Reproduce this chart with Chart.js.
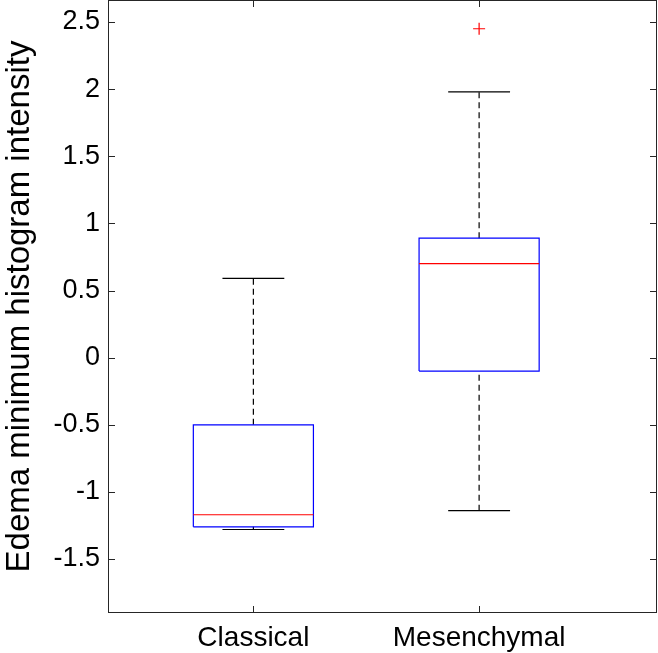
<!DOCTYPE html>
<html>
<head>
<meta charset="utf-8">
<script src="https://cdn.jsdelivr.net/npm/chart.js@4.4.0/dist/chart.umd.min.js"></script>
<style>
  html, body { margin: 0; padding: 0; background: #fff; }
  #wrap { width: 658px; height: 653px; }
</style>
</head>
<body>
<div id="wrap"><canvas id="boxChart" width="658" height="653"></canvas></div>
<script>
// --- Data ---
const categories = ['Classical', 'Mesenchymal'];
const lowerWhisker = [-1.28, -1.14];
const q1 = [-1.26, -0.10];
const median = [-1.17, 0.70];
const q3 = [-0.50, 0.89];
const upperWhisker = [0.59, 1.98];
const outliers = [[], [2.45]];
const yTicks = [-1.5, -1, -0.5, 0, 0.5, 1, 1.5, 2, 2.5];

// --- Style ---
const FONT = '"Liberation Sans", Arial, Helvetica, sans-serif';
const AXIS_COLOR = '#262626';
const BOX_COLOR = '#0000ff';
const MEDIAN_COLOR = '#ff0000';
const BOX_HALF = 0.266;
const CAP_HALF = 0.137;

const lineSet = (points, color, extra = {}) => Object.assign({
    type: 'scatter',
    data: points,
    showLine: true,
    borderColor: color,
    borderWidth: 1.2,
    pointRadius: 0,
    pointHoverRadius: 0,
    fill: false,
    tension: 0
}, extra);

const datasets = [];
categories.forEach((name, i) => {
    const c = i + 1;
    // median
    datasets.push(lineSet([{ x: c - BOX_HALF, y: median[i] }, { x: c + BOX_HALF, y: median[i] }], MEDIAN_COLOR, { order: 0 }));
    // box
    datasets.push(lineSet([
        { x: c - BOX_HALF, y: q1[i] }, { x: c + BOX_HALF, y: q1[i] },
        { x: c + BOX_HALF, y: q3[i] }, { x: c - BOX_HALF, y: q3[i] },
        { x: c - BOX_HALF, y: q1[i] }
    ], BOX_COLOR, { order: 1 }));
    // whiskers (dashed)
    datasets.push(lineSet([{ x: c, y: q3[i] }, { x: c, y: upperWhisker[i] }], '#000', { borderDash: [6, 4], order: 2 }));
    datasets.push(lineSet([{ x: c, y: lowerWhisker[i] }, { x: c, y: q1[i] }], '#000', { borderDash: [6, 4], order: 2 }));
    // caps
    datasets.push(lineSet([{ x: c - CAP_HALF, y: upperWhisker[i] }, { x: c + CAP_HALF, y: upperWhisker[i] }], '#000', { order: 2 }));
    datasets.push(lineSet([{ x: c - CAP_HALF, y: lowerWhisker[i] }, { x: c + CAP_HALF, y: lowerWhisker[i] }], '#000', { order: 2 }));
    // outliers
    if (outliers[i].length) {
        datasets.push({
            type: 'scatter',
            data: outliers[i].map(v => ({ x: c, y: v })),
            pointStyle: 'cross',
            pointRadius: 6,
            pointHoverRadius: 6,
            borderColor: MEDIAN_COLOR,
            borderWidth: 1.2,
            order: 0
        });
    }
});

// Frame with inward tick marks, MATLAB style
const framePlugin = {
    id: 'frame',
    afterDraw(chart) {
        const { ctx, chartArea: a, scales } = chart;
        const len = 7;
        ctx.save();
        ctx.strokeStyle = AXIS_COLOR;
        ctx.lineWidth = 1;
        ctx.strokeRect(a.left + 0.5, a.top + 0.5, a.right - a.left - 1, a.bottom - a.top - 1);
        ctx.beginPath();
        scales.y.ticks.forEach(t => {
            const y = Math.round(scales.y.getPixelForValue(t.value)) + 0.5;
            ctx.moveTo(a.left, y); ctx.lineTo(a.left + len, y);
            ctx.moveTo(a.right, y); ctx.lineTo(a.right - len, y);
        });
        scales.x.ticks.forEach(t => {
            const x = Math.round(scales.x.getPixelForValue(t.value)) + 0.5;
            ctx.moveTo(x, a.bottom); ctx.lineTo(x, a.bottom - len);
            ctx.moveTo(x, a.top); ctx.lineTo(x, a.top + len);
        });
        ctx.stroke();
        ctx.restore();
    }
};

const noPadding = (s) => {
    s.paddingTop = 0; s.paddingBottom = 0; s.paddingLeft = 0; s.paddingRight = 0;
};

new Chart(document.getElementById('boxChart').getContext('2d'), {
    type: 'scatter',
    data: { datasets },
    options: {
        responsive: false,
        animation: false,
        layout: { autoPadding: false, padding: { top: 0, right: 1, left: 0, bottom: 0 } },
        plugins: { legend: { display: false }, tooltip: { enabled: false } },
        scales: {
            x: {
                type: 'linear',
                min: 0.356,
                max: 2.788,
                afterFit: (s) => { s.height = 40; noPadding(s); },
                afterBuildTicks: (s) => { s.ticks = categories.map((_, i) => ({ value: i + 1 })); },
                grid: { display: false, drawTicks: false },
                border: { display: false },
                ticks: {
                    padding: 8,
                    color: '#000',
                    maxRotation: 0,
                    font: { family: FONT, size: 28 },
                    callback: (v) => categories[Math.round(v) - 1]
                }
            },
            y: {
                min: -1.902,
                max: 2.664,
                afterFit: (s) => { s.width = 108; noPadding(s); },
                afterBuildTicks: (s) => { s.ticks = yTicks.map(v => ({ value: v })); },
                grid: { display: false, drawTicks: false },
                border: { display: false },
                ticks: {
                    padding: 8,
                    color: '#000',
                    font: { family: FONT, size: 27 },
                    callback: (v) => String(v)
                },
                title: {
                    display: true,
                    text: 'Edema minimum histogram intensity',
                    color: '#000',
                    padding: 0,
                    font: { family: FONT, size: 33 }
                }
            }
        }
    },
    plugins: [framePlugin]
});
</script>
</body>
</html>
